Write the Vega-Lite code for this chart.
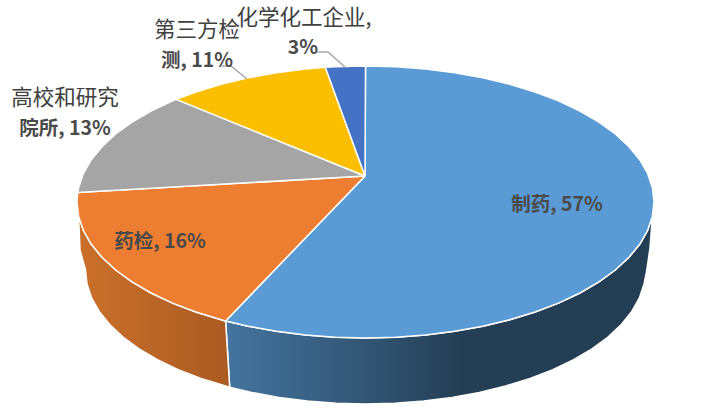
{"$schema":"https://vega.github.io/schema/vega-lite/v6.json","width":702,"height":420,"padding":0,"autosize":{"type":"fit","contains":"padding"},"background":"white","config":{"view":{"stroke":null}},
"datasets":{
"shape":[
{"g":"sideA","i":1,"x":652.4,"y":216.2},{"g":"sideA","i":2,"x":647.7,"y":230.3},{"g":"sideA","i":3,"x":639.9,"y":244},{"g":"sideA","i":4,"x":629,"y":257.3},{"g":"sideA","i":5,"x":615.3,"y":270},{"g":"sideA","i":6,"x":598.9,"y":281.9},{"g":"sideA","i":7,"x":579.9,"y":293},{"g":"sideA","i":8,"x":558.5,"y":303.1},{"g":"sideA","i":9,"x":535.1,"y":312},{"g":"sideA","i":10,"x":509.8,"y":319.8},{"g":"sideA","i":11,"x":482.8,"y":326.2},{"g":"sideA","i":12,"x":454.6,"y":331.3},{"g":"sideA","i":13,"x":425.5,"y":335},{"g":"sideA","i":14,"x":395.7,"y":337.3},{"g":"sideA","i":15,"x":365.5,"y":338},{"g":"sideA","i":16,"x":335.3,"y":337.3},{"g":"sideA","i":17,"x":305.5,"y":335},{"g":"sideA","i":18,"x":276.4,"y":331.3},{"g":"sideA","i":19,"x":248.2,"y":326.2},{"g":"sideA","i":20,"x":225.6,"y":320.9},{"g":"sideA","i":21,"x":229.7,"y":387.2},{"g":"sideA","i":22,"x":251.6,"y":392.4},{"g":"sideA","i":23,"x":279,"y":397.4},{"g":"sideA","i":24,"x":307.3,"y":401.1},{"g":"sideA","i":25,"x":336.2,"y":403.3},{"g":"sideA","i":26,"x":365.5,"y":404},{"g":"sideA","i":27,"x":394.8,"y":403.3},{"g":"sideA","i":28,"x":423.7,"y":401.1},{"g":"sideA","i":29,"x":452,"y":397.4},{"g":"sideA","i":30,"x":479.4,"y":392.4},{"g":"sideA","i":31,"x":505.5,"y":386},{"g":"sideA","i":32,"x":530.1,"y":378.4},{"g":"sideA","i":33,"x":552.9,"y":369.6},{"g":"sideA","i":34,"x":573.6,"y":359.7},{"g":"sideA","i":35,"x":592,"y":348.8},{"g":"sideA","i":36,"x":608,"y":337},{"g":"sideA","i":37,"x":621.3,"y":324.5},{"g":"sideA","i":38,"x":631.8,"y":311.4},{"g":"sideA","i":39,"x":639.4,"y":297.9},{"g":"sideA","i":40,"x":644,"y":284},{"g":"sideA","i":41,"x":646.5,"y":272},{"g":"sideA","i":42,"x":650,"y":248},{"g":"sideA","i":43,"x":652.4,"y":216.2},
{"g":"sideB","i":1,"x":225.6,"y":320.9},{"g":"sideB","i":2,"x":221.2,"y":319.8},{"g":"sideB","i":3,"x":195.9,"y":312},{"g":"sideB","i":4,"x":172.5,"y":303.1},{"g":"sideB","i":5,"x":151.1,"y":293},{"g":"sideB","i":6,"x":132.1,"y":281.9},{"g":"sideB","i":7,"x":115.7,"y":270},{"g":"sideB","i":8,"x":102,"y":257.3},{"g":"sideB","i":9,"x":91.1,"y":244},{"g":"sideB","i":10,"x":83.3,"y":230.3},{"g":"sideB","i":11,"x":78.6,"y":216.2},{"g":"sideB","i":12,"x":80,"y":250},{"g":"sideB","i":13,"x":85.5,"y":270},{"g":"sideB","i":14,"x":87,"y":284},{"g":"sideB","i":15,"x":91.6,"y":297.9},{"g":"sideB","i":16,"x":99.2,"y":311.4},{"g":"sideB","i":17,"x":109.7,"y":324.5},{"g":"sideB","i":18,"x":123,"y":337},{"g":"sideB","i":19,"x":139,"y":348.8},{"g":"sideB","i":20,"x":157.4,"y":359.7},{"g":"sideB","i":21,"x":178.1,"y":369.6},{"g":"sideB","i":22,"x":200.9,"y":378.4},{"g":"sideB","i":23,"x":225.5,"y":386},{"g":"sideB","i":24,"x":229.7,"y":387.2},{"g":"sideB","i":25,"x":225.6,"y":320.9},
{"g":"制药","i":1,"x":365,"y":176},{"g":"制药","i":2,"x":365.5,"y":66},{"g":"制药","i":3,"x":395.7,"y":66.7},{"g":"制药","i":4,"x":425.5,"y":69},{"g":"制药","i":5,"x":454.6,"y":72.7},{"g":"制药","i":6,"x":482.8,"y":77.8},{"g":"制药","i":7,"x":509.8,"y":84.2},{"g":"制药","i":8,"x":535.1,"y":92},{"g":"制药","i":9,"x":558.5,"y":100.9},{"g":"制药","i":10,"x":579.9,"y":111},{"g":"制药","i":11,"x":598.9,"y":122.1},{"g":"制药","i":12,"x":615.3,"y":134},{"g":"制药","i":13,"x":629,"y":146.7},{"g":"制药","i":14,"x":639.9,"y":160},{"g":"制药","i":15,"x":647.7,"y":173.7},{"g":"制药","i":16,"x":652.4,"y":187.8},{"g":"制药","i":17,"x":654,"y":202},{"g":"制药","i":18,"x":652.4,"y":216.2},{"g":"制药","i":19,"x":647.7,"y":230.3},{"g":"制药","i":20,"x":639.9,"y":244},{"g":"制药","i":21,"x":629,"y":257.3},{"g":"制药","i":22,"x":615.3,"y":270},{"g":"制药","i":23,"x":598.9,"y":281.9},{"g":"制药","i":24,"x":579.9,"y":293},{"g":"制药","i":25,"x":558.5,"y":303.1},{"g":"制药","i":26,"x":535.1,"y":312},{"g":"制药","i":27,"x":509.8,"y":319.8},{"g":"制药","i":28,"x":482.8,"y":326.2},{"g":"制药","i":29,"x":454.6,"y":331.3},{"g":"制药","i":30,"x":425.5,"y":335},{"g":"制药","i":31,"x":395.7,"y":337.3},{"g":"制药","i":32,"x":365.5,"y":338},{"g":"制药","i":33,"x":335.3,"y":337.3},{"g":"制药","i":34,"x":305.5,"y":335},{"g":"制药","i":35,"x":276.4,"y":331.3},{"g":"制药","i":36,"x":248.2,"y":326.2},{"g":"制药","i":37,"x":225.6,"y":320.9},{"g":"制药","i":38,"x":365,"y":176},
{"g":"药检","i":1,"x":365,"y":176},{"g":"药检","i":2,"x":225.6,"y":320.9},{"g":"药检","i":3,"x":221.2,"y":319.8},{"g":"药检","i":4,"x":195.9,"y":312},{"g":"药检","i":5,"x":172.5,"y":303.1},{"g":"药检","i":6,"x":151.1,"y":293},{"g":"药检","i":7,"x":132.1,"y":281.9},{"g":"药检","i":8,"x":115.7,"y":270},{"g":"药检","i":9,"x":102,"y":257.3},{"g":"药检","i":10,"x":91.1,"y":244},{"g":"药检","i":11,"x":83.3,"y":230.3},{"g":"药检","i":12,"x":78.6,"y":216.2},{"g":"药检","i":13,"x":77,"y":202},{"g":"药检","i":14,"x":77.7,"y":192.5},{"g":"药检","i":15,"x":365,"y":176},
{"g":"高校和研究院所","i":1,"x":365,"y":176},{"g":"高校和研究院所","i":2,"x":77.7,"y":192.5},{"g":"高校和研究院所","i":3,"x":78.6,"y":187.8},{"g":"高校和研究院所","i":4,"x":83.3,"y":173.7},{"g":"高校和研究院所","i":5,"x":91.1,"y":160},{"g":"高校和研究院所","i":6,"x":102,"y":146.7},{"g":"高校和研究院所","i":7,"x":115.7,"y":134},{"g":"高校和研究院所","i":8,"x":132.1,"y":122.1},{"g":"高校和研究院所","i":9,"x":151.1,"y":111},{"g":"高校和研究院所","i":10,"x":172.5,"y":100.9},{"g":"高校和研究院所","i":11,"x":176.2,"y":99.4},{"g":"高校和研究院所","i":12,"x":365,"y":176},
{"g":"第三方检测","i":1,"x":365,"y":176},{"g":"第三方检测","i":2,"x":176.2,"y":99.4},{"g":"第三方检测","i":3,"x":195.9,"y":92},{"g":"第三方检测","i":4,"x":221.2,"y":84.2},{"g":"第三方检测","i":5,"x":248.2,"y":77.8},{"g":"第三方检测","i":6,"x":276.4,"y":72.7},{"g":"第三方检测","i":7,"x":305.5,"y":69},{"g":"第三方检测","i":8,"x":325.3,"y":67.3},{"g":"第三方检测","i":9,"x":365,"y":176},
{"g":"化学化工企业","i":1,"x":365,"y":176},{"g":"化学化工企业","i":2,"x":325.3,"y":67.3},{"g":"化学化工企业","i":3,"x":335.3,"y":66.7},{"g":"化学化工企业","i":4,"x":365.5,"y":66},{"g":"化学化工企业","i":5,"x":365,"y":176}
],
"leaders":[
{"g":"a","i":1,"x":317,"y":52},{"g":"a","i":2,"x":328,"y":52},{"g":"a","i":3,"x":345,"y":67},
{"g":"b","i":1,"x":222,"y":66},{"g":"b","i":2,"x":231,"y":66},{"g":"b","i":3,"x":247,"y":79}
],
"headLines":[
{"t":"化学化工企业,","x":304,"y":18},{"t":"第三方检","x":197,"y":30},{"t":"高校和研究","x":65,"y":98}
],
"valueLines":[
{"t":"3%","x":303,"y":47},{"t":"测, 11%","x":197,"y":60},{"t":"院所, 13%","x":65,"y":128},
{"t":"药检, 16%","x":160,"y":241},{"t":"制药, 57%","x":557,"y":204}
]},
"encoding":{
"x":{"field":"x","type":"quantitative","scale":{"domain":[0,702],"nice":false,"zero":false},"axis":null},
"y":{"field":"y","type":"quantitative","scale":{"domain":[420,0],"nice":false,"zero":false},"axis":null}
},
"layer":[
{"data":{"name":"shape"},"transform":[{"filter":"datum.g==='sideA'"}],
"mark":{"type":"line","stroke":"white","strokeWidth":1.5,"fill":{"gradient":"linear","x1":0,"y1":0,"x2":1,"y2":0,"stops":[{"offset":0,"color":"#44749f"},{"offset":0.3,"color":"#345878"},{"offset":0.55,"color":"#243f55"},{"offset":1,"color":"#233d54"}]}},
"encoding":{"order":{"field":"i","type":"quantitative"}}},
{"data":{"name":"shape"},"transform":[{"filter":"datum.g==='sideB'"}],
"mark":{"type":"line","stroke":"white","strokeWidth":1.5,"fill":{"gradient":"linear","x1":0,"y1":0,"x2":1,"y2":0,"stops":[{"offset":0,"color":"#cb702b"},{"offset":1,"color":"#aa5b22"}]}},
"encoding":{"order":{"field":"i","type":"quantitative"}}},
{"data":{"name":"shape"},"transform":[{"filter":"datum.g!=='sideA' && datum.g!=='sideB'"}],
"mark":{"type":"line","stroke":"white","strokeWidth":1.5},
"encoding":{"order":{"field":"i","type":"quantitative"},"detail":{"field":"g"},
"fill":{"field":"g","type":"nominal","legend":null,"scale":{"domain":["制药","药检","高校和研究院所","第三方检测","化学化工企业"],"range":["#5b9bd5","#ed7d31","#a5a5a5","#fbbf00","#4472c4"]}}}},
{"data":{"name":"leaders"},"mark":{"type":"line","stroke":"#a6a6a6","strokeWidth":1.5},
"encoding":{"order":{"field":"i","type":"quantitative"},"detail":{"field":"g"}}},
{"data":{"name":"headLines"},"mark":{"type":"text","font":"Noto Sans CJK SC","fontSize":21.5,"fontWeight":"normal","fill":"#404040","align":"center","baseline":"middle","dy":1},
"encoding":{"text":{"field":"t"}}},
{"data":{"name":"valueLines"},"mark":{"type":"text","font":"Noto Sans CJK SC","fontSize":19.5,"fontWeight":"bold","fill":"#4a4a4a","align":"center","baseline":"middle","dy":1},
"encoding":{"text":{"field":"t"}}}
]}
